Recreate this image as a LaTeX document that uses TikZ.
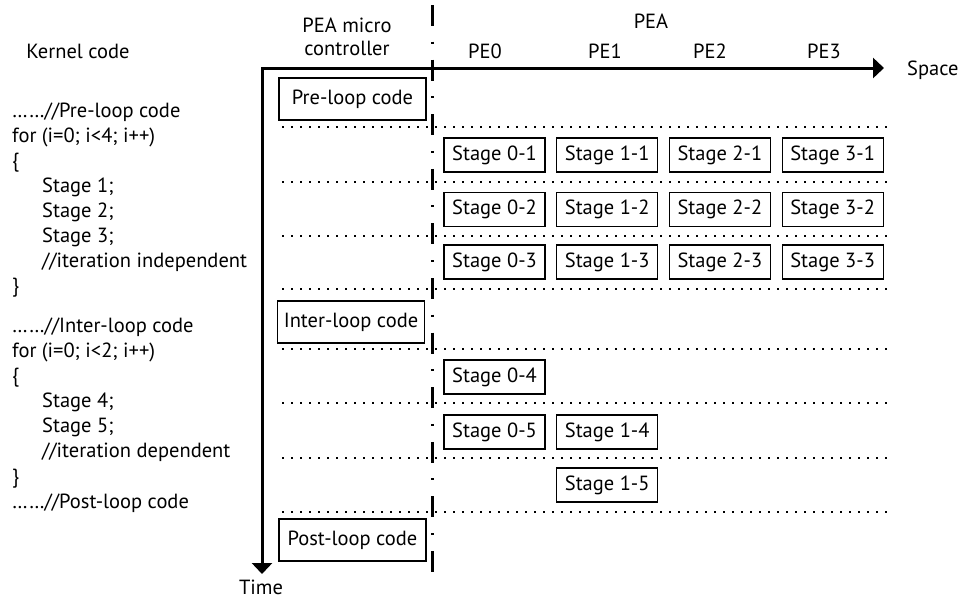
\documentclass[tikz,border=0pt]{standalone}
\usepackage{fontspec}
\setmainfont{PT Sans}
\usetikzlibrary{arrows.meta}
\begin{document}
\begin{tikzpicture}[x=1pt,y=-1pt,
  font=\fontsize{20.5}{24}\selectfont,
  axisline/.style={line width=3pt,line join=miter,
    {Triangle[length=11pt,width=20pt]}-{Triangle[length=11pt,width=20pt]}},
  divider/.style={line width=2.8pt,dash pattern=on 21pt off 15.6pt on 2pt off 16pt},
  rowsep/.style={line width=2pt,dash pattern=on 2pt off 7pt},
  stagebox/.style={draw,line width=1.2pt,inner sep=0pt,minimum width=101pt,minimum height=34pt},
  ctrlbox/.style={draw,line width=1.2pt,inner sep=0pt,minimum width=147pt,minimum height=42pt},
  code/.style={inner sep=0pt,anchor=base west},
  label/.style={inner sep=0pt,anchor=base},
]
\useasboundingbox (0,0) rectangle (963,600);

% time / space axes
\coordinate (O) at (262,68);
\coordinate (Xend) at (884,68);
\coordinate (Yend) at (262,574);
\draw[axisline] (Xend) -- (O) -- (Yend);
\node[label,anchor=base west] (space) at (907,75) {Space};
\node[label] (time) at (261,594) {Time};

% controller / PE array divider
\coordinate (Dtop) at (432.5,5);
\coordinate (Dbot) at (432.5,573);
\draw[divider] (Dtop) -- (Dbot);

% time-step separators
\foreach \yy [count=\i] in {127,182,236,289,349,403,458,512}{
  \coordinate (L\i) at (282,\yy);
  \coordinate (R\i) at (888,\yy);
  \draw[rowsep] (L\i) -- (R\i);
}

% column headings
\node[label] (kernel) at (78,58) {Kernel code};
\node[label] (pea-mc1) at (347,32) {PEA micro};
\node[label] (pea-mc2) at (347,55) {controller};
\node[label] (pea) at (651,28) {PEA};
\node[label] (pe0) at (485,58) {PE0};
\node[label] (pe1) at (605,58) {PE1};
\node[label] (pe2) at (710,58) {PE2};
\node[label] (pe3) at (824,58) {PE3};

% kernel source
\node[code] (c1) at (12,117) {……//Pre-loop code};
\node[code] (c2) at (12,142) {for (i=0; i<4; i++)};
\node[code] (c3) at (12,167) {\{};
\node[code] (c4) at (42,192) {Stage 1;};
\node[code] (c5) at (42,217) {Stage 2;};
\node[code] (c6) at (42,242) {Stage 3;};
\node[code] (c7) at (42,267) {//iteration independent};
\node[code] (c8) at (12,292) {\}};
\node[code] (d1) at (12,332) {……//Inter-loop code};
\node[code] (d2) at (12,357) {for (i=0; i<2; i++)};
\node[code] (d3) at (12,382) {\{};
\node[code] (d4) at (42,407) {Stage 4;};
\node[code] (d5) at (42,432) {Stage 5;};
\node[code] (d6) at (42,457) {//iteration dependent};
\node[code] (d7) at (12,483) {\}};
\node[code] (d8) at (12,508) {……//Post-loop code};

% micro controller work
\node[ctrlbox] (pre) at (352.5,99) {Pre-loop code};
\node[ctrlbox] (inter) at (351,322) {Inter-loop code};
\node[ctrlbox] (post) at (352.5,540) {Post-loop code};

% PE array stages
\foreach \c/\x in {0/494.5,1/607.2,2/719.9,3/832.6}{
  \foreach \r/\y in {1/155,2/209.5,3/262}{
    \node[stagebox] (s\c\r) at (\x,\y) {Stage \c-\r};
  }
}
\node[stagebox] (s04) at (494.5,377) {Stage 0-4};
\node[stagebox] (s05) at (494.5,432) {Stage 0-5};
\node[stagebox] (s14) at (607.2,432) {Stage 1-4};
\node[stagebox] (s15) at (607.2,485) {Stage 1-5};
\end{tikzpicture}
\end{document}
